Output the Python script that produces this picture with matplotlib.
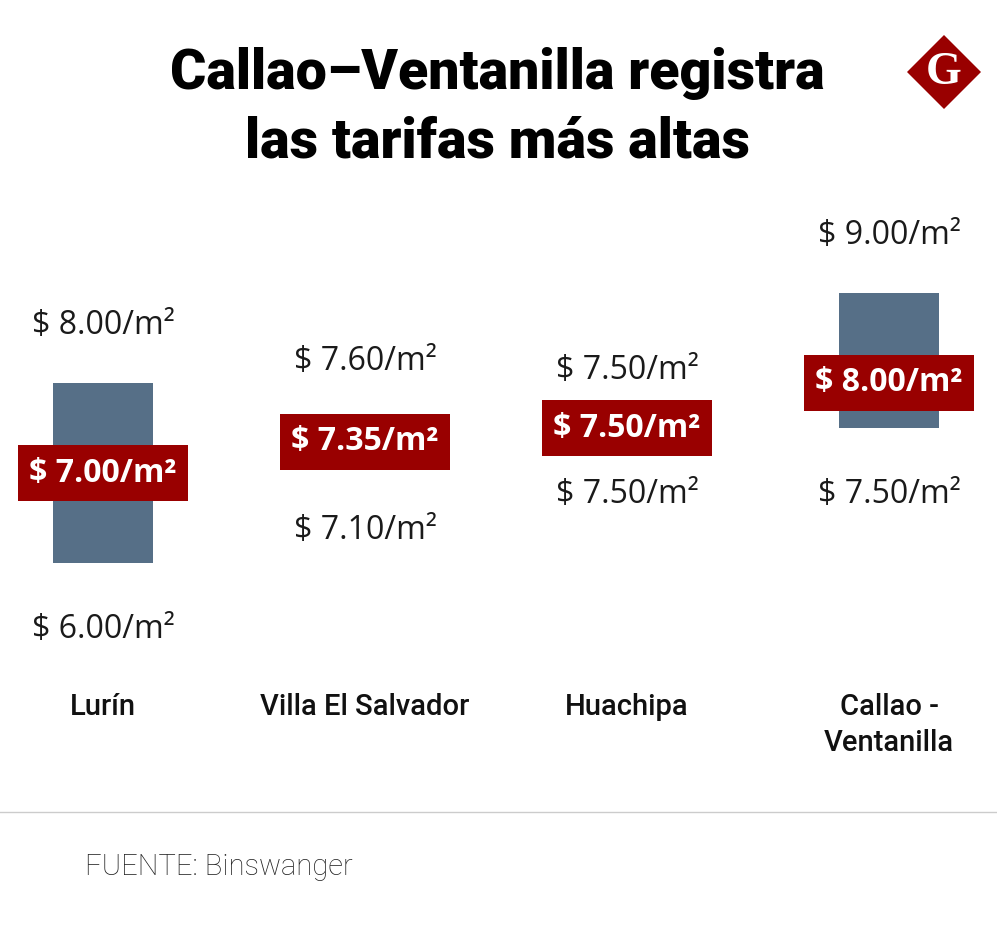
import matplotlib
matplotlib.use("Agg")
import matplotlib.pyplot as plt
from matplotlib.patches import Polygon
from matplotlib.lines import Line2D

# ---- data ----
categories = ["Lurín", "Villa El Salvador", "Huachipa", "Callao -\nVentanilla"]
min_values = [6.00, 7.10, 7.50, 7.50]
max_values = [8.00, 7.60, 7.50, 9.00]
avg_values = [7.00, 7.35, 7.50, 8.00]

title_lines = ["Callao–Ventanilla registra", "las tarifas más altas"]
source_text = "FUENTE: Binswanger"

RED = "#990000"
BAR = "#566f87"
W, H = 997, 940

fig = plt.figure(figsize=(W / 100, H / 100), dpi=100)
fig.patch.set_facecolor("white")

ax = fig.add_axes([0, 0, 1, 1])
ax.set_xlim(-103 / 262, (W - 103) / 262)
ax.set_ylim(8 - (H - 383) / 90, 8 + 383 / 90)
ax.axis("off")

x = list(range(len(categories)))
heights = [mx - mn for mx, mn in zip(max_values, min_values)]
ax.bar(x, heights, bottom=min_values, width=100 / 262, color=BAR, zorder=1)

def fmt(v):
    return f"$ {v:.2f}/m²"

val_font = dict(family="Open Sans", fontsize=23, color="#1a1a1a")
off = 62 * 72 / 100
shift = -3
for i in x:
    ax.annotate(fmt(max_values[i]), (i, max_values[i]), xytext=(0, off + shift),
                textcoords="offset points", ha="center", va="center", **val_font)
    ax.annotate(fmt(min_values[i]), (i, min_values[i]), xytext=(0, -off + shift),
                textcoords="offset points", ha="center", va="center", **val_font)
    ax.text(i, avg_values[i], fmt(avg_values[i]), ha="center", va="center",
            family="Open Sans", fontsize=23, fontweight="bold", color="white",
            zorder=3,
            bbox=dict(boxstyle="square,pad=0.36", fc=RED, ec="none"))

# category labels
xt = ax.get_xaxis_transform()
for i, c in zip(x, categories):
    ax.text(i, 1 - 693 / H, c, transform=xt, ha="center", va="top",
            family="Roboto", fontsize=21, fontweight="medium", color="#111111",
            linespacing=1.38)

# title
fig.text(497 / W, 1 - 74 / H, title_lines[0], ha="center", va="center",
         family="Roboto", fontsize=40, fontweight="black", color="#000000")
fig.text(497 / W, 1 - 142 / H, title_lines[1], ha="center", va="center",
         family="Roboto", fontsize=40, fontweight="black", color="#000000")

# logo
cx, cy, r = 944, 72, 37
pts = [((cx) / W, 1 - (cy - r) / H), ((cx + r) / W, 1 - cy / H),
       (cx / W, 1 - (cy + r) / H), ((cx - r) / W, 1 - cy / H)]
fig.add_artist(Polygon(pts, closed=True, transform=fig.transFigure,
                       fc=RED, ec="none"))
fig.text(cx / W, 1 - (cy + 1) / H, "G", ha="center", va="center",
         family="Liberation Serif", fontweight="bold", fontsize=33, color="white")

# separator and source
fig.add_artist(Line2D([0, 1], [1 - 812 / H] * 2, transform=fig.transFigure,
                      color="#cccccc", lw=1))
fig.text(85 / W, 1 - 867 / H, source_text, ha="left", va="center",
         family="Roboto", fontweight="light", fontsize=21, color="#222222")

fig.savefig("out.png", dpi=100, facecolor="white")
